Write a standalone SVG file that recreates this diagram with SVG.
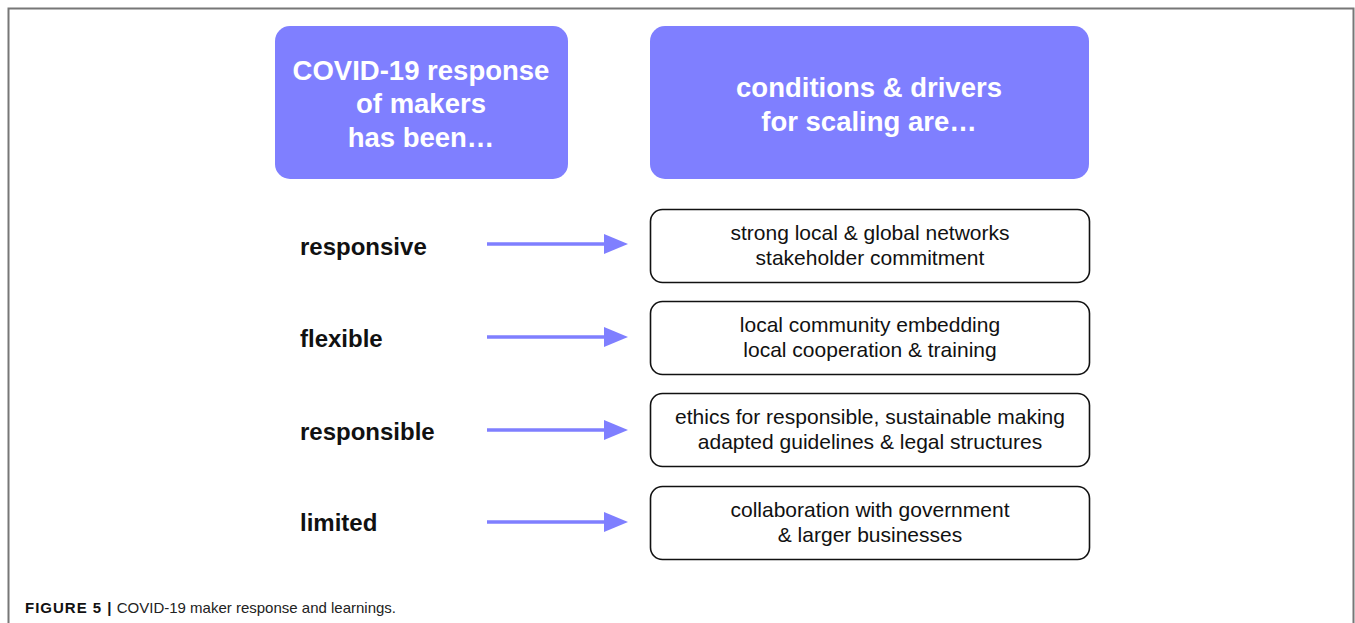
<svg xmlns="http://www.w3.org/2000/svg" width="1355" height="623" viewBox="0 0 1355 623">
<style>
.hdr{fill:#7f7fff}
.ht{font-family:"Liberation Sans",Arial,sans-serif;font-weight:bold;font-size:27.5px;fill:#fff;text-anchor:middle}
.box{fill:#fff;stroke:#111;stroke-width:1.6}
.bt{font-family:"Liberation Sans",Arial,sans-serif;font-size:21px;fill:#111;text-anchor:middle}
.lab{font-family:"Liberation Sans",Arial,sans-serif;font-weight:bold;font-size:24px;fill:#111}
.arr{stroke:#7f7fff;stroke-width:3.5;fill:none}
.cap{font-family:"Liberation Sans",Arial,sans-serif;font-size:15px;fill:#222}
</style>
<defs>
<marker id="ah" markerWidth="8" markerHeight="8" refX="0" refY="4" orient="auto" markerUnits="userSpaceOnUse" viewBox="0 0 8 8" overflow="visible">
<path d="M0,-6 L24,4 L0,14 Z" fill="#7f7fff"/>
</marker>
</defs>
<rect x="0" y="0" width="1355" height="623" fill="#fff"/>
<path d="M8.5,623 V8.5 H1353.5 V623" fill="none" stroke="#777" stroke-width="2"/>
<g id="hdr-left">
<rect class="hdr" x="275" y="26" width="293" height="153" rx="15"/>
<text class="ht" x="421" y="80">COVID-19 response</text>
<text class="ht" x="421" y="113">of makers</text>
<text class="ht" x="421" y="147">has been…</text>
</g>
<g id="hdr-right">
<rect class="hdr" x="650" y="26" width="439" height="153" rx="15"/>
<text class="ht" x="869" y="97">conditions &amp; drivers</text>
<text class="ht" x="869" y="131">for scaling are…</text>
</g>
<g id="lab-responsive"><text class="lab" x="300" y="255">responsive</text></g>
<g id="lab-flexible"><text class="lab" x="300" y="347">flexible</text></g>
<g id="lab-responsible"><text class="lab" x="300" y="440">responsible</text></g>
<g id="lab-limited"><text class="lab" x="300" y="531">limited</text></g>
<g id="box1">
<rect class="box" x="650.5" y="209.5" width="439" height="73" rx="12"/>
<text class="bt" x="870" y="240">strong local &amp; global networks</text>
<text class="bt" x="870" y="265">stakeholder commitment</text>
</g>
<g id="box2">
<rect class="box" x="650.5" y="301.5" width="439" height="73" rx="12"/>
<text class="bt" x="870" y="332">local community embedding</text>
<text class="bt" x="870" y="357">local cooperation &amp; training</text>
</g>
<g id="box3">
<rect class="box" x="650.5" y="393.5" width="439" height="73" rx="12"/>
<text class="bt" x="870" y="424">ethics for responsible, sustainable making</text>
<text class="bt" x="870" y="449">adapted guidelines &amp; legal structures</text>
</g>
<g id="box4">
<rect class="box" x="650.5" y="486.5" width="439" height="73" rx="12"/>
<text class="bt" x="870" y="517">collaboration with government</text>
<text class="bt" x="870" y="542">&amp; larger businesses</text>
</g>
<g id="connectors">
<line class="arr" x1="487" y1="244" x2="604" y2="244" marker-end="url(#ah)"/>
<line class="arr" x1="487" y1="337" x2="604" y2="337" marker-end="url(#ah)"/>
<line class="arr" x1="487" y1="430" x2="604" y2="430" marker-end="url(#ah)"/>
<line class="arr" x1="487" y1="522" x2="604" y2="522" marker-end="url(#ah)"/>
</g>
<text class="cap" x="25" y="613"><tspan font-weight="bold" letter-spacing="1" fill="#111">FIGURE 5 |</tspan> COVID-19 maker response and learnings.</text>
</svg>
